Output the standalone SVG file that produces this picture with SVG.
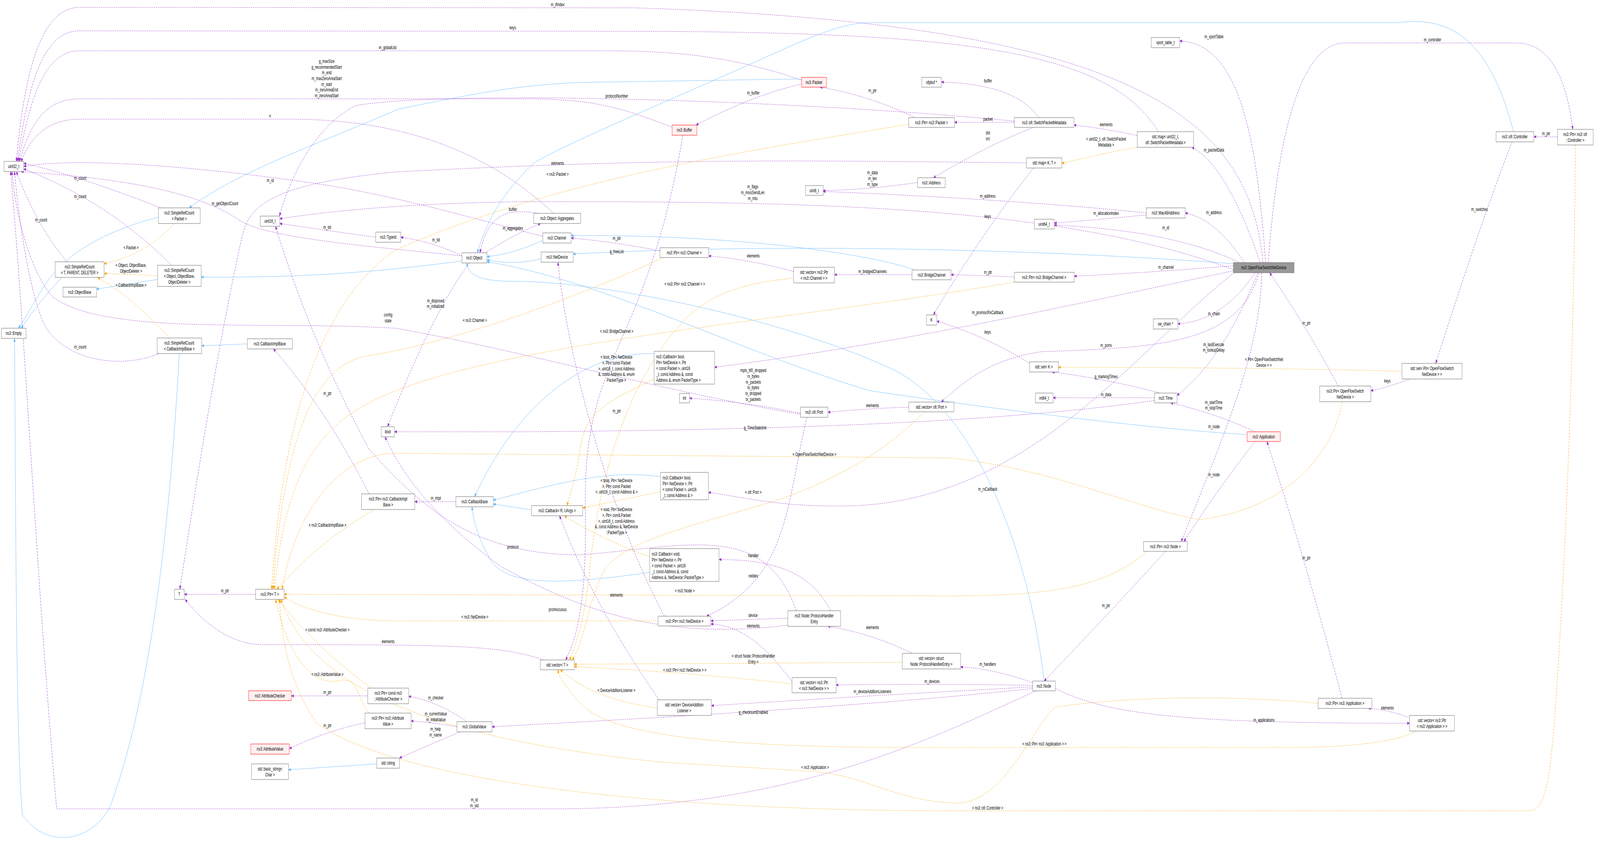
<svg xmlns="http://www.w3.org/2000/svg" width="6047" height="2160" viewBox="0 0 6047 2160">
<style>
text{font-family:"Liberation Sans",Arial,sans-serif;font-size:12px;fill:#000}
.nt{text-anchor:middle}
.l{text-anchor:middle}
rect{fill:#fff;stroke:#666;stroke-width:1}
rect.r{fill:#fff0f0;stroke:#f00}
rect.g{fill:#999}
path{fill:none;stroke-width:1}
.p{stroke:#9a32cd;stroke-dasharray:5,3;marker-end:url(#mp)}
.o{stroke:#ffa500;stroke-dasharray:5,3;marker-end:url(#mo)}
.b{stroke:#63b8ff;marker-end:url(#mb)}
</style>
<defs>
<marker id="mp" viewBox="0 0 10 10" refX="9" refY="5" markerWidth="10" markerHeight="10" orient="auto" markerUnits="userSpaceOnUse"><path d="M0,1L10,5L0,9z" style="fill:#9a32cd;stroke:none"/></marker>
<marker id="mo" viewBox="0 0 10 10" refX="9" refY="5" markerWidth="10" markerHeight="10" orient="auto" markerUnits="userSpaceOnUse"><path d="M0,1L10,5L0,9z" style="fill:#ffa500;stroke:none"/></marker>
<marker id="mb" viewBox="0 0 10 10" refX="9" refY="5" markerWidth="10" markerHeight="10" orient="auto" markerUnits="userSpaceOnUse"><path d="M0,1L10,5L0,9z" style="fill:#63b8ff;stroke:none"/></marker>
</defs>
<g id="diagram" transform="scale(0.675 1)">
<g id="edges">
<path class="p" d="M4790,672 C4740,300 4300,60 2400,20 L300,19 C150,19 90,200 62,413"/>
<path class="p" d="M4393,337 C4200,120 3600,80 2300,80 L300,79 C150,79 100,250 66,413"/>
<path class="p" d="M3040,205 C2800,150 2600,130 2300,130 L300,130 C160,130 110,270 70,413"/>
<path class="p" d="M2549,325 C2400,290 2300,253 2000,253 L300,253 C160,253 110,330 74,413"/>
<path class="p" d="M2100,546 C1900,420 1600,305 1100,305 L300,305 C170,305 110,360 80,414"/>
<path class="p" d="M610,532 Q300,450 90,418"/>
<path class="p" d="M650,679 Q420,520 90,432"/>
<path class="p" d="M255,670 Q140,580 62,439"/>
<path class="p" d="M605,904 C450,950 200,920 150,800 C100,700 70,550 55,439"/>
<path class="p" d="M2059,605 C1800,560 1500,500 1200,470 C800,430 300,400 90,426"/>
<path class="p" d="M1752,655 C1400,630 1000,610 900,560 C700,470 300,450 80,439"/>
<path class="p" d="M3036,1060 C2500,1000 2000,900 1500,840 C1000,820 400,860 200,760 C120,700 60,560 45,439"/>
<path class="p" d="M1425,607 Q1240,590 1061,572"/>
<path class="p" d="M1752,655 Q1650,620 1520,607"/>
<path class="p" d="M3847,310 C3000,255 1700,230 1350,270 C1200,320 1100,450 1060,553"/>
<path class="p" d="M4678,690 C4000,520 3000,516 2000,516 C1500,520 1200,545 1061,560"/>
<path class="p" d="M1840,647 Q1950,600 2050,572"/>
<path class="p" d="M2040,546 C1900,530 1850,560 1820,647"/>
<path class="p" d="M1780,673 Q1640,800 1470,1092"/>
<path class="p" d="M2503,642 Q2340,620 2166,609"/>
<path class="p" d="M3010,695 Q2850,665 2688,655"/>
<path class="p" d="M3459,703 L3165,703"/>
<path class="p" d="M3847,709 Q3740,705 3607,703"/>
<path class="p" d="M4678,680 Q4420,695 4074,707"/>
<path class="p" d="M3470,301 Q3300,245 3110,223"/>
<path class="p" d="M3847,313 L3620,313"/>
<path class="p" d="M3940,301 Q3850,215 3570,210"/>
<path class="p" d="M3920,326 Q3750,370 3540,455"/>
<path class="p" d="M4313,347 Q4200,330 4073,320"/>
<path class="p" d="M4780,672 Q4650,420 4520,377"/>
<path class="p" d="M4800,672 C4770,400 4720,110 4474,105"/>
<path class="p" d="M4810,672 C4850,300 4950,110 5100,110 L5750,110 C5880,110 5940,200 5965,331"/>
<path class="p" d="M5907,350 L5817,350"/>
<path class="p" d="M5735,363 Q5620,560 5445,930"/>
<path class="p" d="M5345,970 Q5270,990 5199,1000"/>
<path class="p" d="M5075,988 Q4950,830 4815,698"/>
<path class="p" d="M3480,467 Q3300,485 3122,488"/>
<path class="p" d="M4347,545 C4000,520 3500,500 3122,490"/>
<path class="p" d="M4720,672 Q4610,560 4495,545"/>
<path class="p" d="M4347,550 Q4200,560 3998,571"/>
<path class="p" d="M4700,672 Q4450,590 3998,576"/>
<path class="p" d="M3920,430 Q3720,600 3540,806"/>
<path class="p" d="M3905,930 Q3740,860 3553,822"/>
<path class="p" d="M4400,1006 Q4200,970 3990,952"/>
<path class="p" d="M4378,1018 L3994,1018"/>
<path class="p" d="M4760,698 Q4640,820 4467,829"/>
<path class="p" d="M4770,698 Q4640,920 4464,1012"/>
<path class="p" d="M4678,693 C4000,790 3400,880 2710,940"/>
<path class="p" d="M4775,698 C4700,880 4400,890 3950,900 C3750,920 3650,980 3570,1029"/>
<path class="p" d="M3447,1042 Q3300,1045 3140,1055"/>
<path class="p" d="M3036,1058 Q2850,1030 2615,1019"/>
<path class="p" d="M3060,1068 C2980,1300 2990,1480 2680,1577"/>
<path class="p" d="M4378,1025 C3800,1080 3000,1100 2000,1105 L1496,1105"/>
<path class="p" d="M4760,1105 Q4620,1060 4440,1031"/>
<path class="p" d="M4785,698 C4780,900 4650,1100 4480,1386"/>
<path class="p" d="M4760,1130 Q4620,1250 4490,1386"/>
<path class="p" d="M4420,1411 Q4220,1560 3960,1743"/>
<path class="p" d="M3916,1747 Q3760,1710 3643,1707"/>
<path class="p" d="M3460,1672 Q3300,1620 3140,1603"/>
<path class="p" d="M3916,1754 Q3550,1750 3171,1753"/>
<path class="p" d="M3916,1758 Q3300,1780 2698,1806"/>
<path class="p" d="M3916,1762 C3400,1800 2700,1830 1866,1860"/>
<path class="p" d="M4003,1762 C4200,1830 4500,1851 5346,1851"/>
<path class="p" d="M5350,1838 Q5260,1815 5190,1813"/>
<path class="p" d="M5090,1787 Q4950,1430 4805,1130"/>
<path class="p" d="M3930,1768 C3500,1900 3000,2070 2100,2070 L215,2070 C140,1500 90,800 40,439"/>
<path class="p" d="M3004,1745 Q2850,1600 2696,1597"/>
<path class="p" d="M2988,1582 L2696,1589"/>
<path class="p" d="M3150,1563 C3080,1470 2950,1432 2727,1432"/>
<path class="p" d="M3020,1563 C2900,1330 2600,1400 2200,1420 C1800,1420 1600,1300 1400,1150 C1200,900 1100,700 1045,579"/>
<path class="p" d="M2988,1600 C2500,1640 2200,1560 1900,1450 C1700,1350 1550,1250 1460,1118"/>
<path class="p" d="M2500,1791 Q2250,1550 2122,1320"/>
<path class="p" d="M2520,1577 C2300,1300 2150,900 2116,671"/>
<path class="p" d="M1770,1847 Q1660,1795 1550,1782"/>
<path class="p" d="M1733,1860 Q1650,1850 1559,1845"/>
<path class="p" d="M1745,1873 Q1650,1900 1515,1940"/>
<path class="p" d="M1395,1781 L1105,1781"/>
<path class="p" d="M1384,1850 Q1240,1870 1097,1916"/>
<path class="p" d="M969,1521 L699,1521"/>
<path class="p" d="M2060,1689 C1900,1650 1700,1650 1000,1650 C880,1650 780,1600 702,1534"/>
<path class="p" d="M1729,1284 L1573,1284"/>
<path class="p" d="M1400,1264 Q1240,1050 1037,893"/>
<path class="p" d="M2590,346 C2450,900 2210,900 2220,1300 C2225,1500 2200,1620 2145,1689"/>
<path class="p" d="M3040,215 Q2850,245 2640,320"/>
<path class="p" d="M3893,417 C3000,410 2500,405 1500,440 C1050,470 950,520 920,600 C820,900 730,1300 682,1508"/>
<path class="p" d="M4680,698 C4300,900 3900,1290 3200,1295 C2950,1297 2800,1270 2687,1260"/>
<path class="o" d="M660,572 Q560,650 395,675"/>
<path class="o" d="M598,706 Q500,702 395,700"/>
<path class="o" d="M645,865 Q500,760 370,710"/>
<path class="o" d="M3446,318 C2800,390 2100,460 1500,640 C1150,800 1060,1200 1030,1508"/>
<path class="o" d="M2515,659 C2200,760 1700,880 1400,910 C1200,930 1080,1100 1035,1508"/>
<path class="o" d="M3847,722 C3000,820 2000,870 1500,1000 C1200,1080 1090,1200 1040,1508"/>
<path class="o" d="M1420,1304 Q1220,1380 1050,1508"/>
<path class="o" d="M1410,1761 Q1200,1660 1055,1534"/>
<path class="o" d="M1400,1825 C1350,1780 1360,1740 1300,1740 C1200,1760 1100,1700 1045,1534"/>
<path class="o" d="M2496,1589 L1500,1589 C1300,1589 1150,1560 1078,1528"/>
<path class="o" d="M4350,1411 C4200,1500 4000,1525 3600,1525 L1078,1521"/>
<path class="o" d="M5090,1028 C5060,1150 4900,1300 4550,1330 C4300,1300 4000,1200 3600,1172 L1500,1160 C1300,1160 1120,1300 1070,1508"/>
<path class="o" d="M4999,1800 C4700,1780 4300,1780 4000,1810 C3900,1880 3800,2060 3620,2055 C3400,2050 3300,1990 3100,1975 L2500,1950 C1800,1900 1200,1800 1065,1534"/>
<path class="o" d="M5975,371 C5970,800 5950,1300 5900,1800 C5880,2000 5860,2075 5800,2075 L3600,2075 C2500,2075 1500,2000 1200,1850 C1100,1750 1070,1650 1060,1534"/>
<path class="o" d="M2481,970 C2300,1030 2220,1050 2200,1150 C2190,1200 2170,1250 2150,1294"/>
<path class="o" d="M2505,1259 Q2350,1280 2210,1300"/>
<path class="o" d="M2464,1425 Q2280,1380 2140,1320"/>
<path class="o" d="M3010,712 C2700,730 2600,800 2500,900 C2300,1100 2250,1350 2230,1500 C2210,1600 2180,1660 2160,1689"/>
<path class="o" d="M3505,1054 C3300,1200 3000,1270 2900,1290 C2600,1350 2400,1380 2300,1450 C2230,1530 2220,1640 2170,1689"/>
<path class="o" d="M3422,1695 L2178,1700"/>
<path class="o" d="M3004,1750 Q2600,1720 2178,1706"/>
<path class="o" d="M2493,1812 Q2250,1790 2125,1714"/>
<path class="o" d="M5370,1871 C5300,1900 5100,1913 4900,1913 L3400,1913 C2600,1910 2300,1870 2200,1800 C2150,1760 2125,1740 2115,1714"/>
<path class="o" d="M4313,377 Q4200,390 4027,418"/>
<path class="o" d="M5317,950 Q4700,940 4014,940"/>
<path class="b" d="M601,556 C400,590 250,650 180,720 C130,770 100,810 70,840"/>
<path class="b" d="M235,710 Q150,770 80,840"/>
<path class="b" d="M680,904 C640,1400 560,1800 420,2060 C360,2150 180,2180 85,2085 C60,1900 60,1300 55,866"/>
<path class="b" d="M598,715 L366,740"/>
<path class="b" d="M1752,668 C1500,690 1200,712 763,709"/>
<path class="b" d="M3040,202 L2300,210 C2000,210 1800,240 1512,279 C1200,370 900,440 718,532"/>
<path class="b" d="M5740,337 C5650,100 5500,40 5300,58 L3300,58 C3200,58 3100,90 3024,110 C2600,240 2100,380 2020,420 C1900,500 1850,560 1810,647"/>
<path class="b" d="M2059,615 Q1950,650 1847,657"/>
<path class="b" d="M2052,662 Q1950,680 1847,665"/>
<path class="b" d="M3470,691 C3300,650 2800,600 2166,603"/>
<path class="b" d="M4678,675 C4000,640 3000,620 2174,650"/>
<path class="b" d="M3960,1743 C3900,1400 3700,1060 3400,950 C3000,820 2300,720 1950,720 C1800,720 1780,700 1770,673"/>
<path class="b" d="M4730,1112 C4400,1100 3800,1050 3300,1000 C2800,900 2300,720 1847,670"/>
<path class="b" d="M2016,1305 L1871,1290"/>
<path class="b" d="M2481,905 C2200,900 1950,1050 1800,1271"/>
<path class="b" d="M2505,1220 C2300,1200 2100,1240 1871,1280"/>
<path class="b" d="M2464,1465 C2100,1500 1900,1500 1850,1420 C1810,1370 1795,1330 1790,1297"/>
<path class="b" d="M938,880 L765,885"/>
<path class="b" d="M1429,1955 L1094,1970"/>
</g>
<g id="labels">
<text class="l" x="2115" y="16">m_ifIndex</text>
<text class="l" x="1945" y="75">keys</text>
<text class="l" x="1470" y="126">m_globalUid</text>
<text class="l" x="1239" y="161">g_maxSize</text>
<text class="l" x="1239" y="176">g_recommendedStart</text>
<text class="l" x="1239" y="190">m_end</text>
<text class="l" x="1239" y="205">m_maxZeroAreaStart</text>
<text class="l" x="1239" y="220">m_start</text>
<text class="l" x="1239" y="234">m_zeroAreaEnd</text>
<text class="l" x="1239" y="249">m_zeroAreaStart</text>
<text class="l" x="1024" y="301">n</text>
<text class="l" x="304" y="460">m_count</text>
<text class="l" x="304" y="507">m_count</text>
<text class="l" x="156" y="567">m_count</text>
<text class="l" x="304" y="892">m_count</text>
<text class="l" x="1025" y="466">m_id</text>
<text class="l" x="853" y="525">m_getObjectCount</text>
<text class="l" x="1472" y="810">config</text>
<text class="l" x="1472" y="825">state</text>
<text class="l" x="1241" y="586">m_tid</text>
<text class="l" x="1654" y="618">m_tid</text>
<text class="l" x="2339" y="250">protocolNumber</text>
<text class="l" x="2855" y="482">m_flags</text>
<text class="l" x="2855" y="497">m_missSendLen</text>
<text class="l" x="2855" y="512">m_mtu</text>
<text class="l" x="1945" y="588">m_aggregates</text>
<text class="l" x="1945" y="540">buffer</text>
<text class="l" x="1652" y="774">m_disposed</text>
<text class="l" x="1652" y="788">m_initialized</text>
<text class="l" x="2339" y="614">m_ptr</text>
<text class="l" x="2339" y="648">g_freeList</text>
<text class="l" x="2857" y="659">elements</text>
<text class="l" x="3309" y="699">m_bridgedChannels</text>
<text class="l" x="3747" y="701">m_ptr</text>
<text class="l" x="4422" y="688">m_channel</text>
<text class="l" x="3309" y="236">m_ptr</text>
<text class="l" x="3747" y="309">packet</text>
<text class="l" x="3747" y="211">buffer</text>
<text class="l" x="3747" y="344">dst</text>
<text class="l" x="3747" y="359">src</text>
<text class="l" x="4195" y="323">elements</text>
<text class="l" x="4604" y="388">m_packetData</text>
<text class="l" x="4604" y="98">m_vportTable</text>
<text class="l" x="5433" y="106">m_controller</text>
<text class="l" x="5864" y="346">m_ptr</text>
<text class="l" x="5611" y="540">m_switches</text>
<text class="l" x="5262" y="979">keys</text>
<text class="l" x="4955" y="831">m_ptr</text>
<text class="l" x="3309" y="446">m_data</text>
<text class="l" x="3309" y="461">m_len</text>
<text class="l" x="3309" y="476">m_type</text>
<text class="l" x="3746" y="506">m_address</text>
<text class="l" x="4604" y="548">m_address</text>
<text class="l" x="4195" y="550">m_allocationIndex</text>
<text class="l" x="4421" y="587">m_id</text>
<text class="l" x="3746" y="558">keys</text>
<text class="l" x="3746" y="854">keys</text>
<text class="l" x="4195" y="968">g_markingTimes</text>
<text class="l" x="4195" y="1014">m_data</text>
<text class="l" x="4604" y="807">m_chain</text>
<text class="l" x="4603" y="886">m_lastExecute</text>
<text class="l" x="4603" y="900">m_lookupDelay</text>
<text class="l" x="3746" y="804">m_promiscRxCallback</text>
<text class="l" x="4195" y="888">m_ports</text>
<text class="l" x="3309" y="1042">elements</text>
<text class="l" x="2857" y="952">mpls_ttl0_dropped</text>
<text class="l" x="2857" y="967">rx_bytes</text>
<text class="l" x="2857" y="982">rx_packets</text>
<text class="l" x="2857" y="996">tx_bytes</text>
<text class="l" x="2857" y="1011">tx_dropped</text>
<text class="l" x="2857" y="1026">tx_packets</text>
<text class="l" x="2857" y="1478">netdev</text>
<text class="l" x="2864" y="1099">g_TimeStaticInit</text>
<text class="l" x="4603" y="1034">m_startTime</text>
<text class="l" x="4603" y="1048">m_stopTime</text>
<text class="l" x="4604" y="1096">m_node</text>
<text class="l" x="4604" y="1219">m_node</text>
<text class="l" x="4195" y="1554">m_ptr</text>
<text class="l" x="3746" y="1704">m_handlers</text>
<text class="l" x="3309" y="1610">elements</text>
<text class="l" x="3535" y="1748">m_devices</text>
<text class="l" x="3309" y="1774">m_deviceAdditionListeners</text>
<text class="l" x="2857" y="1827">g_checksumEnabled</text>
<text class="l" x="4794" y="1847">m_applications</text>
<text class="l" x="5262" y="1816">elements</text>
<text class="l" x="4955" y="1432">m_ptr</text>
<text class="l" x="1799" y="2051">m_id</text>
<text class="l" x="1799" y="2066">m_sid</text>
<text class="l" x="2857" y="1606">elements</text>
<text class="l" x="2856" y="1579">device</text>
<text class="l" x="2857" y="1426">handler</text>
<text class="l" x="1945" y="1404">protocol</text>
<text class="l" x="2115" y="1564">promiscuous</text>
<text class="l" x="2339" y="1056">m_ptr</text>
<text class="l" x="1653" y="1790">m_checker</text>
<text class="l" x="1653" y="1831">m_currentValue</text>
<text class="l" x="1653" y="1846">m_initialValue</text>
<text class="l" x="1652" y="1870">m_help</text>
<text class="l" x="1652" y="1885">m_name</text>
<text class="l" x="1242" y="1776">m_ptr</text>
<text class="l" x="1242" y="1861">m_ptr</text>
<text class="l" x="853" y="1516">m_ptr</text>
<text class="l" x="1472" y="1646">elements</text>
<text class="l" x="2338" y="1527">elements</text>
<text class="l" x="1653" y="1279">m_impl</text>
<text class="l" x="1242" y="1011">m_ptr</text>
<text class="l" x="2857" y="242">m_buffer</text>
<text class="l" x="2115" y="422">elements</text>
<text class="l" x="3746" y="1256">m_rxCallback</text>
<text class="l" x="497" y="638">&lt; Packet &gt;</text>
<text class="l" x="497" y="683">&lt; Object, ObjectBase,</text>
<text class="l" x="497" y="698">ObjectDeleter &gt;</text>
<text class="l" x="497" y="734">&lt; CallbackImplBase &gt;</text>
<text class="l" x="2115" y="450">&lt; ns3::Packet &gt;</text>
<text class="l" x="1801" y="824">&lt; ns3::Channel &gt;</text>
<text class="l" x="2339" y="852">&lt; ns3::BridgeChannel &gt;</text>
<text class="l" x="1242" y="1348">&lt; ns3::CallbackImplBase &gt;</text>
<text class="l" x="1242" y="1616">&lt; const ns3::AttributeChecker &gt;</text>
<text class="l" x="1242" y="1730">&lt; ns3::AttributeValue &gt;</text>
<text class="l" x="1801" y="1583">&lt; ns3::NetDevice &gt;</text>
<text class="l" x="2597" y="1516">&lt; ns3::Node &gt;</text>
<text class="l" x="3089" y="1167">&lt; OpenFlowSwitchNetDevice &gt;</text>
<text class="l" x="3091" y="1968">&lt; ns3::Application &gt;</text>
<text class="l" x="3746" y="2072">&lt; ns3::ofi::Controller &gt;</text>
<text class="l" x="2338" y="918">&lt; bool, Ptr&lt; NetDevice</text>
<text class="l" x="2338" y="933">&gt;, Ptr&lt; const Packet</text>
<text class="l" x="2338" y="948">&gt;, uint16_t, const Address</text>
<text class="l" x="2338" y="962">&amp;, const Address &amp;, enum</text>
<text class="l" x="2338" y="977">PacketType &gt;</text>
<text class="l" x="2338" y="1234">&lt; bool, Ptr&lt; NetDevice</text>
<text class="l" x="2338" y="1249">&gt;, Ptr&lt; const Packet</text>
<text class="l" x="2338" y="1263">&gt;, uint16_t, const Address &amp; &gt;</text>
<text class="l" x="2338" y="1308">&lt; void, Ptr&lt; NetDevice</text>
<text class="l" x="2338" y="1323">&gt;, Ptr&lt; const Packet</text>
<text class="l" x="2338" y="1338">&gt;, uint16_t, const Address</text>
<text class="l" x="2338" y="1352">&amp;, const Address &amp;, NetDevice</text>
<text class="l" x="2338" y="1367">::PacketType &gt;</text>
<text class="l" x="2597" y="731">&lt; ns3::Ptr&lt; ns3::Channel &gt; &gt;</text>
<text class="l" x="2857" y="1264">&lt; ofi::Port &gt;</text>
<text class="l" x="2857" y="1683">&lt; struct Node::ProtocolHandler</text>
<text class="l" x="2857" y="1698">Entry &gt;</text>
<text class="l" x="2597" y="1719">&lt; ns3::Ptr&lt; ns3::NetDevice &gt; &gt;</text>
<text class="l" x="2338" y="1771">&lt; DeviceAdditionListener &gt;</text>
<text class="l" x="3961" y="1908">&lt; ns3::Ptr&lt; ns3::Application &gt; &gt;</text>
<text class="l" x="4195" y="360">&lt; uint32_t, ofi::SwitchPacket</text>
<text class="l" x="4195" y="375">Metadata &gt;</text>
<text class="l" x="4794" y="924">&lt; Ptr&lt; OpenFlowSwitchNet</text>
<text class="l" x="4794" y="939">Device &gt; &gt;</text>
</g>
<g id="n1"><rect x="15" y="413" width="75" height="26"/><text class="nt" x="52" y="430">uint32_t</text></g>
<g id="n2"><rect x="987" y="553" width="74" height="26"/><text class="nt" x="1024" y="570">uint16_t</text></g>
<g id="n3"><rect x="1425" y="594" width="95" height="26"/><text class="nt" x="1472" y="611">ns3::TypeId</text></g>
<g id="n4"><rect x="601" y="532" width="158" height="40"/><text class="nt" x="680" y="549">ns3::SimpleRefCount</text><text class="nt" x="680" y="564">&lt; Packet &gt;</text></g>
<g id="n5"><rect x="209" y="670" width="186" height="40"/><text class="nt" x="302" y="687">ns3::SimpleRefCount</text><text class="nt" x="302" y="702">&lt; T, PARENT, DELETER &gt;</text></g>
<g id="n6"><rect x="239" y="735" width="127" height="25"/><text class="nt" x="302" y="752">ns3::ObjectBase</text></g>
<g id="n7"><rect x="598" y="679" width="165" height="54"/><text class="nt" x="680" y="696">ns3::SimpleRefCount</text><text class="nt" x="680" y="711">&lt; Object, ObjectBase,</text><text class="nt" x="680" y="726">ObjectDeleter &gt;</text></g>
<g id="n8"><rect x="5" y="840" width="94" height="26"/><text class="nt" x="52" y="857">ns3::Empty</text></g>
<g id="n9"><rect x="596" y="865" width="169" height="40"/><text class="nt" x="680" y="882">ns3::SimpleRefCount</text><text class="nt" x="680" y="897">&lt; CallbackImplBase &gt;</text></g>
<g id="n10"><rect x="938" y="867" width="171" height="26"/><text class="nt" x="1023" y="884">ns3::CallbackImplBase</text></g>
<g id="n11"><rect class="r" x="2549" y="320" width="94" height="26"/><text class="nt" x="2596" y="337">ns3::Buffer</text></g>
<g id="n12"><rect x="2024" y="546" width="178" height="26"/><text class="nt" x="2113" y="563">ns3::Object::Aggregates</text></g>
<g id="n13"><rect x="2059" y="596" width="107" height="26"/><text class="nt" x="2112" y="613">ns3::Channel</text></g>
<g id="n14"><rect x="1752" y="647" width="95" height="26"/><text class="nt" x="1799" y="664">ns3::Object</text></g>
<g id="n15"><rect x="2052" y="645" width="122" height="26"/><text class="nt" x="2113" y="662">ns3::NetDevice</text></g>
<g id="n16"><rect x="2503" y="634" width="185" height="25"/><text class="nt" x="2595" y="651">ns3::Ptr&lt; ns3::Channel &gt;</text></g>
<g id="n17"><rect x="2481" y="899" width="229" height="84"/><text x="2489" y="917">ns3::Callback&lt; bool,</text><text x="2489" y="932"> Ptr&lt; NetDevice &gt;, Ptr</text><text x="2489" y="947">&lt; const Packet &gt;, uint16</text><text x="2489" y="962">_t, const Address &amp;, const</text><text x="2489" y="977"> Address &amp;, enum PacketType &gt;</text></g>
<g id="n18"><rect x="2577" y="1007" width="38" height="24"/><text class="nt" x="2596" y="1023">int</text></g>
<g id="n19"><rect x="3010" y="684" width="155" height="40"/><text class="nt" x="3087" y="701">std::vector&lt; ns3::Ptr</text><text class="nt" x="3087" y="716">&lt; ns3::Channel &gt; &gt;</text></g>
<g id="n20"><rect class="r" x="3040" y="198" width="95" height="25"/><text class="nt" x="3087" y="215">ns3::Packet</text></g>
<g id="n21"><rect x="3496" y="198" width="74" height="25"/><text class="nt" x="3533" y="215">ofpbuf *</text></g>
<g id="n22"><rect x="3446" y="301" width="174" height="25"/><text class="nt" x="3533" y="318">ns3::Ptr&lt; ns3::Packet &gt;</text></g>
<g id="n23"><rect x="3847" y="301" width="226" height="25"/><text class="nt" x="3960" y="318">ns3::ofi::SwitchPacketMetadata</text></g>
<g id="n24"><rect x="4313" y="337" width="214" height="40"/><text class="nt" x="4420" y="354">std::map&lt; uint32_t,</text><text class="nt" x="4420" y="369">ofi::SwitchPacketMetadata &gt;</text></g>
<g id="n25"><rect x="4366" y="96" width="108" height="26"/><text class="nt" x="4420" y="113">vport_table_t</text></g>
<g id="n26"><rect x="3893" y="404" width="134" height="26"/><text class="nt" x="3960" y="421">std::map&lt; K, T &gt;</text></g>
<g id="n27"><rect x="3480" y="455" width="105" height="25"/><text class="nt" x="3532" y="472">ns3::Address</text></g>
<g id="n28"><rect x="3055" y="475" width="67" height="25"/><text class="nt" x="3088" y="492">uint8_t</text></g>
<g id="n29"><rect x="4347" y="532" width="148" height="26"/><text class="nt" x="4421" y="549">ns3::Mac48Address</text></g>
<g id="n30"><rect x="3923" y="561" width="75" height="25"/><text class="nt" x="3960" y="578">uint64_t</text></g>
<g id="n31"><rect x="3459" y="691" width="148" height="25"/><text class="nt" x="3533" y="708">ns3::BridgeChannel</text></g>
<g id="n32"><rect x="3847" y="697" width="227" height="25"/><text class="nt" x="3960" y="714">ns3::Ptr&lt; ns3::BridgeChannel &gt;</text></g>
<g id="n33"><rect x="3514" y="806" width="39" height="26"/><text class="nt" x="3533" y="823">K</text></g>
<g id="n34"><rect x="4374" y="816" width="93" height="26"/><text class="nt" x="4420" y="833">sw_chain *</text></g>
<g id="n35"><rect x="3905" y="926" width="109" height="26"/><text class="nt" x="3959" y="943">std::set&lt; K &gt;</text></g>
<g id="n36"><rect x="3927" y="1006" width="67" height="25"/><text class="nt" x="3960" y="1023">int64_t</text></g>
<g id="n37"><rect x="4378" y="1006" width="86" height="25"/><text class="nt" x="4421" y="1023">ns3::Time</text></g>
<g id="n38"><rect x="3447" y="1029" width="171" height="25"/><text class="nt" x="3532" y="1046">std::vector&lt; ofi::Port &gt;</text></g>
<g id="n39"><rect x="3036" y="1042" width="104" height="26"/><text class="nt" x="3088" y="1059">ns3::ofi::Port</text></g>
<g id="n40"><rect class="g" x="4678" y="672" width="230" height="26"/><text class="nt" x="4793" y="689">ns3::OpenFlowSwitchNetDevice</text></g>
<g id="n41"><rect x="5674" y="337" width="143" height="26"/><text class="nt" x="5745" y="354">ns3::ofi::Controller</text></g>
<g id="n42"><rect x="5907" y="331" width="135" height="40"/><text class="nt" x="5974" y="348">ns3::Ptr&lt; ns3::ofi</text><text class="nt" x="5974" y="363">::Controller &gt;</text></g>
<g id="n43"><rect x="5317" y="930" width="228" height="40"/><text class="nt" x="5431" y="947">std::set&lt; Ptr&lt; OpenFlowSwitch</text><text class="nt" x="5431" y="962">NetDevice &gt; &gt;</text></g>
<g id="n44"><rect x="5005" y="988" width="194" height="40"/><text class="nt" x="5102" y="1005">ns3::Ptr&lt; OpenFlowSwitch</text><text class="nt" x="5102" y="1020">NetDevice &gt;</text></g>
<g id="n45"><rect x="1446" y="1092" width="50" height="26"/><text class="nt" x="1471" y="1109">bool</text></g>
<g id="n46"><rect x="1371" y="1264" width="202" height="40"/><text class="nt" x="1472" y="1281">ns3::Ptr&lt; ns3::CallbackImpl</text><text class="nt" x="1472" y="1296">Base &gt;</text></g>
<g id="n47"><rect x="662" y="1508" width="37" height="26"/><text class="nt" x="680" y="1525">T</text></g>
<g id="n48"><rect x="969" y="1508" width="109" height="26"/><text class="nt" x="1023" y="1525">ns3::Ptr&lt; T &gt;</text></g>
<g id="n49"><rect class="r" x="943" y="1768" width="162" height="25"/><text class="nt" x="1024" y="1785">ns3::AttributeChecker</text></g>
<g id="n50"><rect class="r" x="951" y="1904" width="146" height="26"/><text class="nt" x="1024" y="1921">ns3::AttributeValue</text></g>
<g id="n51"><rect x="954" y="1955" width="140" height="40"/><text class="nt" x="1024" y="1972">std::basic_string&lt;</text><text class="nt" x="1024" y="1987">Char &gt;</text></g>
<g id="n52"><rect x="1429" y="1940" width="86" height="26"/><text class="nt" x="1472" y="1957">std::string</text></g>
<g id="n53"><rect x="1395" y="1761" width="155" height="40"/><text class="nt" x="1472" y="1778">ns3::Ptr&lt; const ns3</text><text class="nt" x="1472" y="1793">::AttributeChecker &gt;</text></g>
<g id="n54"><rect x="1384" y="1825" width="175" height="40"/><text class="nt" x="1471" y="1842">ns3::Ptr&lt; ns3::Attribute</text><text class="nt" x="1471" y="1857">Value &gt;</text></g>
<g id="n55"><rect x="1733" y="1847" width="133" height="26"/><text class="nt" x="1799" y="1864">ns3::GlobalValue</text></g>
<g id="n56"><rect x="2049" y="1689" width="129" height="25"/><text class="nt" x="2113" y="1706">std::vector&lt; T &gt;</text></g>
<g id="n57"><rect x="1729" y="1271" width="142" height="26"/><text class="nt" x="1800" y="1288">ns3::CallbackBase</text></g>
<g id="n58"><rect x="2016" y="1294" width="194" height="26"/><text class="nt" x="2113" y="1311">ns3::Callback&lt; R, UArgs &gt;</text></g>
<g id="n59"><rect x="2505" y="1209" width="182" height="70"/><text x="2513" y="1227">ns3::Callback&lt; bool,</text><text x="2513" y="1242"> Ptr&lt; NetDevice &gt;, Ptr</text><text x="2513" y="1257">&lt; const Packet &gt;, uint16</text><text x="2513" y="1272">_t, const Address &amp; &gt;</text></g>
<g id="n60"><rect x="2464" y="1404" width="263" height="84"/><text x="2472" y="1422">ns3::Callback&lt; void,</text><text x="2472" y="1437"> Ptr&lt; NetDevice &gt;, Ptr</text><text x="2472" y="1452">&lt; const Packet &gt;, uint16</text><text x="2472" y="1467">_t, const Address &amp;, const</text><text x="2472" y="1482"> Address &amp;, NetDevice::PacketType &gt;</text></g>
<g id="n61"><rect x="2496" y="1577" width="200" height="25"/><text class="nt" x="2596" y="1594">ns3::Ptr&lt; ns3::NetDevice &gt;</text></g>
<g id="n62"><rect x="2493" y="1791" width="205" height="40"/><text class="nt" x="2595" y="1808">std::vector&lt; DeviceAddition</text><text class="nt" x="2595" y="1823">Listener &gt;</text></g>
<g id="n63"><rect x="2988" y="1563" width="200" height="40"/><text class="nt" x="3088" y="1580">ns3::Node::ProtocolHandler</text><text class="nt" x="3088" y="1595">Entry</text></g>
<g id="n64"><rect x="3004" y="1734" width="167" height="39"/><text class="nt" x="3087" y="1751">std::vector&lt; ns3::Ptr</text><text class="nt" x="3087" y="1766">&lt; ns3::NetDevice &gt; &gt;</text></g>
<g id="n65"><rect x="3422" y="1672" width="221" height="40"/><text class="nt" x="3532" y="1689">std::vector&lt; struct</text><text class="nt" x="3532" y="1704"> Node::ProtocolHandlerEntry &gt;</text></g>
<g id="n66"><rect x="3916" y="1743" width="87" height="25"/><text class="nt" x="3959" y="1760">ns3::Node</text></g>
<g id="n67"><rect x="4337" y="1386" width="166" height="25"/><text class="nt" x="4420" y="1403">ns3::Ptr&lt; ns3::Node &gt;</text></g>
<g id="n68"><rect class="r" x="4730" y="1105" width="126" height="25"/><text class="nt" x="4793" y="1122">ns3::Application</text></g>
<g id="n69"><rect x="4999" y="1787" width="204" height="26"/><text class="nt" x="5101" y="1804">ns3::Ptr&lt; ns3::Application &gt;</text></g>
<g id="n70"><rect x="5346" y="1831" width="170" height="40"/><text class="nt" x="5431" y="1848">std::vector&lt; ns3::Ptr</text><text class="nt" x="5431" y="1863">&lt; ns3::Application &gt; &gt;</text></g>
</g>
</svg>
